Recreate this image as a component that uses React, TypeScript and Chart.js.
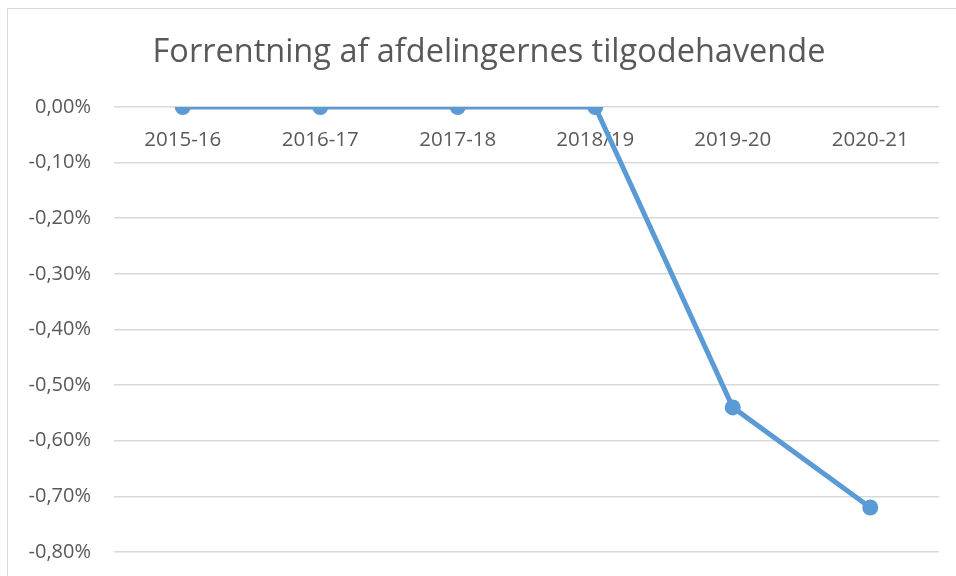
import React, { useEffect, useRef } from "react";
import { Chart, registerables } from "chart.js";

Chart.register(...registerables);

const TITLE = "Forrentning af afdelingernes tilgodehavende";
const categories = ["2015-16", "2016-17", "2017-18", "2018/19", "2019-20", "2020-21"];
const rates = [0, 0, 0, 0, -0.54, -0.72];
const yMin = -0.8;
const yMax = 0;
const yStep = 0.1;

const FONT = "'Open Sans', sans-serif";
const TEXT = "#595959";
const GRID = "#d9d9d9";
const LINE = "#5b9bd5";

export default function App() {
  const ref = useRef<HTMLCanvasElement | null>(null);

  useEffect(() => {
    const canvas = ref.current;
    if (!canvas) return;
    const chart = new Chart(canvas, {
      type: "line",
      data: {
        labels: categories,
        datasets: [
          {
            data: rates,
            borderColor: LINE,
            backgroundColor: LINE,
            borderWidth: 5,
            pointRadius: 8,
            pointHoverRadius: 8,
            pointBackgroundColor: LINE,
            pointBorderColor: LINE,
            pointBorderWidth: 0,
            tension: 0,
            fill: false,
          },
        ],
      },
      options: {
        animation: false,
        responsive: false,
        maintainAspectRatio: false,
        layout: { padding: { left: 14, right: 0, top: 0, bottom: 13 } },
        plugins: {
          legend: { display: false },
          tooltip: { enabled: false },
          title: {
            display: true,
            text: TITLE,
            color: TEXT,
            font: { family: FONT, size: 32.5, weight: "normal" },
            padding: { top: 24, bottom: 35 },
          },
        },
        scales: {
          x: {
            type: "category",
            position: { y: 0 } as any,
            offset: true,
            grid: { display: false, drawTicks: false },
            border: { display: false },
            ticks: {
              color: TEXT,
              font: { family: FONT, size: 20.5 },
              padding: 21,
              maxRotation: 0,
              autoSkip: false,
            },
          },
          y: {
            type: "linear",
            min: yMin,
            max: yMax,
            grid: { color: GRID, lineWidth: 1.5, drawTicks: false },
            border: { display: false },
            afterFit: (scale: any) => {
              scale.width = 92;
            },
            ticks: {
              stepSize: yStep,
              color: TEXT,
              font: { family: FONT, size: 20 },
              padding: 23,
              callback: (v: any) => Number(v).toFixed(2).replace(".", ",") + "%",
            },
          },
          yRight: {
            type: "linear",
            position: "right",
            min: yMin,
            max: yMax,
            grid: { display: false, drawTicks: false },
            border: { display: false },
            ticks: { display: false },
            afterFit: (scale: any) => {
              scale.width = 17;
            },
          },
        },
      },
    });
    return () => chart.destroy();
  }, []);

  return (
    <div
      style={{
        position: "fixed",
        left: 7,
        top: 8,
        width: 949,
        height: 579,
        borderLeft: `1px solid ${GRID}`,
        borderTop: `1px solid ${GRID}`,
        background: "#fff",
      }}
    >
      <canvas ref={ref} width={948} height={578} style={{ display: "block" }} />
    </div>
  );
}
